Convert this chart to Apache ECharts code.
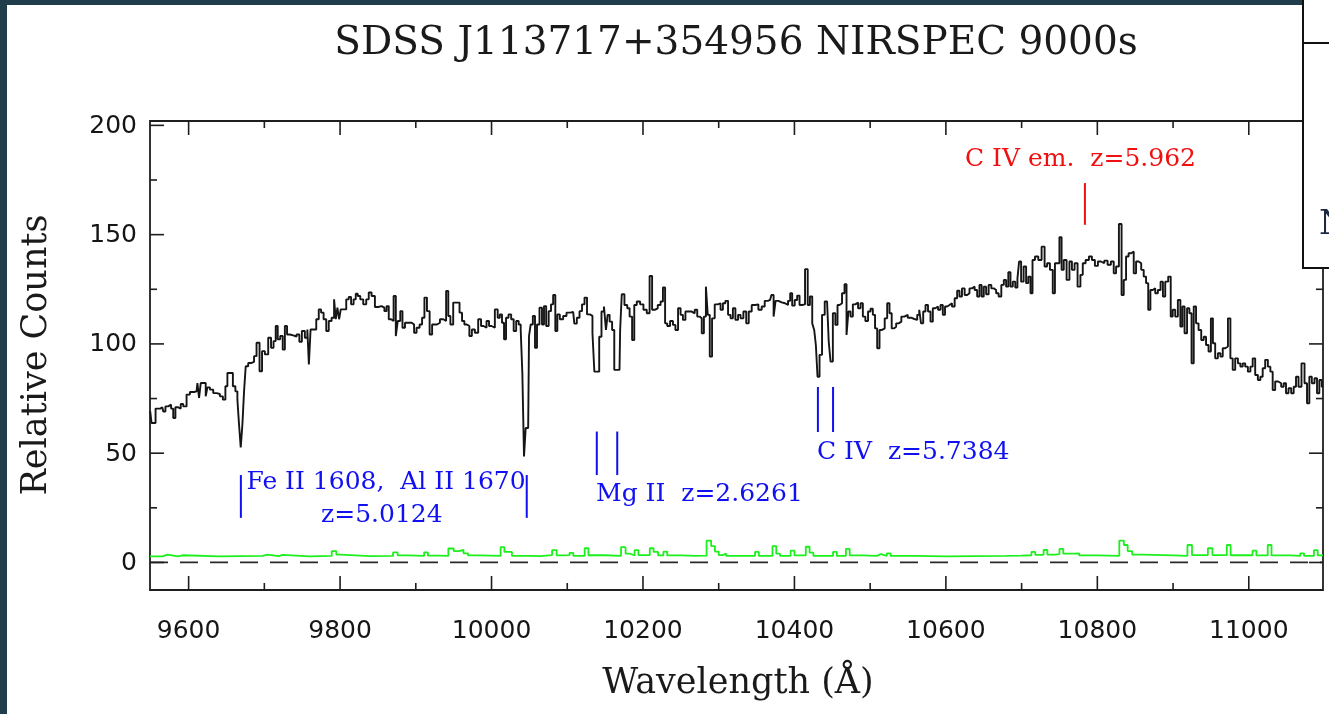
<!DOCTYPE html>
<html><head><meta charset="utf-8">
<script src="https://cdn.jsdelivr.net/npm/echarts@6/dist/echarts.min.js"></script>
<style>html,body{margin:0;padding:0;background:#fff}#c{width:1329px;height:714px}</style>
</head><body><div id="c"></div>
<script>
// ---- spectrum (wavelength in Angstrom, relative counts) ----
const specWave = [
9549.3,9552.8,9559.9,9565.2,9567.8,9570.9,9575.3,9578.4,9581.0,9584.1,9588.5,9590.7,9595.1,9599.5,9603.9,9610.5,9612.7,9614.9,9617.1,9621.5,
9623.7,9625.9,9630.3,9634.7,9639.1,9643.5,9647.0,9650.1,9652.3,9656.7,9660.2,9663.3,9665.5,9667.7,9669.9,9672.1,9674.3,9676.5,9680.9,9685.3,
9687.5,9691.9,9695.4,9698.5,9702.9,9707.3,9710.4,9713.9,9716.1,9719.2,9722.7,9725.8,9728.4,9731.5,9735.9,9740.3,9744.7,9747.8,9751.3,9755.7,
9757.9,9759.7,9762.4,9766.8,9770.3,9773.4,9776.5,9780.0,9783.5,9786.6,9791.0,9793.2,9795.4,9797.6,9799.8,9802.0,9806.4,9809.9,9813.0,9816.1,
9819.6,9821.8,9824.9,9828.4,9832.8,9836.3,9839.4,9843.8,9848.2,9852.6,9857.0,9860.1,9862.8,9865.8,9868.9,9872.5,9874.7,9877.7,9881.3,9883.5,
9887.9,9892.3,9896.7,9898.8,9903.2,9906.8,9909.8,9913.0,9916.5,9920.0,9923.1,9926.2,9929.7,9934.1,9938.5,9941.6,9944.2,9947.2,9951.6,9956.0,
9959.5,9962.6,9965.7,9969.2,9972.3,9975.8,9980.2,9984.6,9987.7,9991.2,9995.6,9997.8,10002.2,10006.6,10009.7,10012.3,10015.4,10017.6,10020.7,10024.2,
10027.7,10030.8,10034.3,10037.4,10039.6,10041.8,10044.0,10046.2,10048.4,10050.6,10052.8,10056.3,10058.5,10061.6,10065.1,10068.2,10070.4,10073.9,10077.0,10080.1,
10082.7,10085.8,10088.0,10092.4,10096.8,10101.2,10107.8,10110.9,10114.4,10118.0,10121.0,10124.6,10127.6,10132.0,
10134.6,10137.0,10141.0,10143.4,10147.0,10150.0,10152.2,10154.4,10157.5,10161.0,10163.2,10169.0,10170.7,10173.3,10177.7,10180.8,10183.9,10187.4,10189.6,10194.0,
10198.4,10202.8,10207.2,10210.3,10213.8,10217.3,10221.7,10224.8,10227.9,10230.5,10233.6,10238.0,10241.1,10244.6,10248.1,10251.2,10254.3,10257.8,10262.2,10266.6,
10270.1,10273.2,10276.3,10278.9,10282.0,10284.2,10286.9,10289.5,10293.0,10296.5,10300.9,10304.0,10307.1,10310.6,10314.1,10317.2,10320.3,10323.8,10327.3,10330.4,
10334.8,10337.9,10341.4,10345.8,10350.2,10354.6,10359.0,10362.5,10367.8,10371.4,10373.6,10376.6,10381.0,10385.4,10389.8,10393.3,10395.5,10398.6,10402.1,10405.2,
10408.3,10411.8,10416.2,10418.9,10422.0,10425.0,10427.2,10429.4,10431.6,10434.7,10438.2,10441.8,10444.4,10446.2,10449.2,10452.3,10455.8,10458.0,10461.1,10464.6,
10467.7,10469.9,10472.6,10475.6,10478.7,10482.2,10485.8,10488.8,10491.9,10495.4,10499.0,10502.0,10505.1,10507.8,10510.8,10513.9,10517.4,10521.0,10524.0,10527.1,
10529.8,10532.8,10535.9,10539.4,10543.0,10547.4,10551.8,10556.2,10560.6,10563.7,10565.9,10568.5,10571.6,10574.6,10578.2,10581.2,10584.3,10587.8,10591.4,10594.4,
10597.5,10600.2,10603.2,10606.3,10609.8,10613.4,10616.4,10619.5,10623.0,10626.6,10629.6,10632.7,10636.2,10639.8,10642.8,10645.9,10648.5,10651.6,10654.7,10658.2,
10661.8,10664.8,10667.9,10671.4,10675.0,10678.0,10681.1,10683.8,10686.8,10689.9,10693.4,10695.6,10697.8,10700.9,10704.4,10707.5,10710.2,10713.3,10715.5,
10719.8,10724.2,10728.6,10732.1,10735.2,10739.6,10742.7,10745.3,10748.4,10751.5,10754.1,10757.2,10761.6,10764.7,10768.2,10771.7,10776.1,10779.2,10782.3,10786.7,
10791.1,10794.6,10799.0,10802.5,10807.0,10811.3,10815.7,10820.1,10823.2,10826.3,10830.7,10833.3,10836.4,10839.5,10843.0,10846.5,10849.6,10852.7,10856.2,10859.7,
10862.8,10865.9,10868.5,10871.6,10874.7,10878.2,10881.7,10885.3,10887.9,10891.4,10895.8,10898.0,10901.1,10904.6,10908.1,10911.2,10913.4,10917.0,10920.0,10923.1,
10925.8,10928.8,10931.9,10935.4,10939.0,10942.0,10945.1,10948.6,10951.3,10953.9,10957.4,10961.0,10964.1,10967.1,10970.7,10974.2,10977.2,10980.3,10983.8,10987.4,
10990.4,10993.5,10997.0,11000.6,11003.6,11006.7,11010.2,11013.8,11016.8,11019.9,11023.4,11027.0,11030.0,11033.1,11036.6,11041.0,11044.6,11047.6,11050.7,11054.2,
11057.8,11060.8,11063.9,11067.4,11071.8,11075.4,11078.4,11081.5,11085.0,11088.6,11091.6,11094.7,11098.0
];
const specCounts = [
69.1,63.8,70.4,71.0,69.1,71.4,72.2,70.4,66.1,71.0,70.4,72.5,71.4,76.8,78.0,78.3,82.1,75.3,82.1,82.1,
76.0,80.1,79.1,77.5,77.1,76.0,74.5,80.6,86.7,86.7,80.6,78.3,74.5,63.0,52.6,63.0,78.3,89.8,91.3,91.8,
94.4,100.5,87.5,96.7,95.2,102.8,98.2,101.3,108.2,102.1,103.6,97.4,108.2,104.3,103.9,103.3,104.3,101.0,105.9,102.8,
106.6,90.6,106.6,106.6,111.3,115.8,114.3,111.3,105.9,110.5,112.0,120.4,111.3,116.6,111.3,115.8,115.8,120.4,121.5,118.1,
120.4,123.0,121.9,120.4,118.1,120.4,123.5,121.9,116.9,117.3,116.6,115.0,117.3,111.3,110.5,121.9,103.6,110.5,115.0,107.4,
109.7,109.7,108.9,105.1,107.4,108.9,112.0,121.2,115.0,104.3,108.9,108.9,109.7,111.3,110.5,124.2,112.8,108.9,118.9,118.9,
114.3,110.5,108.9,108.2,103.6,106.6,105.1,111.3,108.2,107.4,110.5,108.2,107.4,115.8,112.0,113.5,109.7,102.1,112.0,113.5,
111.3,105.9,110.5,108.9,106.6,86.7,48.5,61.5,61.5,103.6,108.9,112.8,98.2,108.9,116.6,108.9,117.3,108.2,115.0,118.1,
122.4,105.9,113.5,111.3,112.8,114.3,114.7,109.3,112.0,115.0,118.1,121.2,113.5,112.8,
104.9,87.3,87.3,103.3,114.8,117.1,106.4,113.3,110.2,106.4,88.1,88.1,106.4,122.7,117.8,116.3,112.5,101.8,117.8,119.4,
118.1,115.6,114.0,131.1,115.6,116.3,117.8,119.4,125.8,109.4,108.2,110.5,108.7,106.4,116.3,113.3,111.0,114.8,114.8,114.0,
115.6,112.5,111.7,104.9,112.5,126.2,113.3,94.2,111.7,118.1,118.6,115.6,118.6,119.7,113.3,111.7,116.3,111.0,113.3,111.7,
114.8,109.4,114.8,117.8,118.1,115.6,117.1,119.7,120.1,122.4,112.5,119.7,119.0,118.6,117.8,119.7,123.2,117.5,120.1,122.1,
117.8,118.1,134.2,117.8,121.7,109.4,106.4,99.5,85.0,95.0,113.3,119.4,118.6,101.0,91.9,114.0,108.7,117.8,118.6,123.2,
127.3,104.1,114.8,112.5,118.1,119.0,116.3,118.6,112.5,110.5,114.8,116.1,113.3,107.1,98.0,106.4,107.1,111.7,118.6,114.0,
107.1,107.9,109.4,110.2,112.5,113.3,112.0,111.4,111.0,113.3,115.6,109.4,114.8,117.8,114.8,110.2,116.3,117.1,115.6,117.8,
113.3,117.1,117.8,118.6,117.1,120.9,124.3,121.7,125.4,122.4,123.2,125.4,126.2,124.7,121.7,127.0,121.7,126.2,122.7,127.0,
125.4,124.7,123.2,121.7,127.0,129.3,126.2,132.8,126.2,128.5,125.8,130.0,137.7,128.5,135.4,127.8,130.8,123.2,138.4,
140.0,138.4,144.5,135.4,136.9,133.9,123.2,136.9,136.9,148.8,133.9,138.4,129.3,137.7,133.9,136.9,126.2,131.6,136.9,138.4,
140.0,138.4,135.7,137.7,136.9,138.1,136.2,137.7,132.3,135.4,154.9,122.4,129.3,140.0,141.5,142.3,132.3,137.7,136.9,133.9,
130.8,127.8,115.6,124.7,125.5,123.2,124.7,128.5,121.7,128.5,130.8,112.5,115.6,112.5,120.1,107.9,117.1,104.9,116.3,114.0,
91.1,117.1,109.4,106.4,101.8,103.3,99.5,96.5,111.7,100.3,93.4,95.7,94.2,98.0,98.8,111.7,93.4,88.1,93.4,91.1,
89.6,91.1,89.6,87.3,89.6,93.4,85.8,83.5,85.0,88.9,92.7,89.6,87.3,78.9,82.8,82.0,80.4,82.0,77.4,79.7,
77.4,80.4,85.0,80.4,91.1,82.0,72.8,85.0,82.0,84.3,77.4,83.5,80.4
];
// ---- error spectrum (green) ----
const errWave = [
9549,9566,9572,9586,9592,9640,9698,9704,9719,9724,9760,9789,9795,9800,9840,9870,9876,9890,9911,9916,
9930,9943,9950,9957,9963,9969,9985,10012,10017,10023,10027,10050,10065,10080,10086,10095,10103,10108,10123,10128,
10150,10171,10177,10183,10189,10194,10209,10214,10220,10227,10232,10250,10270,10284,10290,10295,10300,10305,10310,10330,
10348,10353,10371,10376,10381,10395,10400,10415,10420,10425,10440,10451,10456,10468,10473,10490,10509,10514,10522,10527,
10560,10600,10640,10680,10700,10713,10718,10729,10734,10744,10750,10755,10771,10776,10800,10829,10835,10840,10846,10860,
10900,10919,10925,10946,10952,10971,10976,11005,11010,11025,11030,11055,11068,11073,11086,11091,11098
];
const errCounts = [
2.8,3.6,2.8,3.3,2.8,3.0,3.6,2.9,3.5,2.8,3.0,5.2,3.6,2.9,3.0,4.6,3.2,3.0,4.6,3.1,
3.0,6.4,5.2,5.8,4.2,3.2,3.0,7.0,4.8,4.8,3.0,2.9,3.4,5.6,3.2,3.4,4.4,3.0,6.5,3.3,
3.0,7.0,4.0,3.2,5.6,3.4,6.5,4.8,3.2,5.0,3.2,3.0,3.1,10.0,7.5,5.0,3.4,4.0,3.0,3.0,
4.8,3.0,7.5,4.0,3.0,5.4,3.2,7.2,4.5,3.0,3.0,4.8,3.0,6.2,3.2,3.0,3.8,3.0,4.2,3.0,
2.8,2.9,3.0,3.1,3.3,4.8,3.5,5.7,3.6,3.8,6.2,4.0,4.2,3.2,3.0,10.0,8.0,5.2,3.6,3.2,
3.0,8.0,3.4,6.5,3.4,8.0,3.3,5.4,3.2,8.0,3.2,3.0,4.2,3.0,5.6,3.2,3.2
];
// ---- ticks ----
const xMajorTicks = [9600, 9800, 10000, 10200, 10400, 10600, 10800, 11000];
const xMinorTicks = [9700, 9900, 10100, 10300, 10500, 10700, 10900];
const yMajorTicks = [0, 50, 100, 150, 200];
const yMinorTicks = [25, 75, 125, 175];
// ---- line identifications ----
const blueMarkWave = [9669, 10046.5, 10139, 10166, 10431, 10451];
const blueMarkLow  = [20.4, 20.4, 40.0, 40.0, 59.7, 59.7];
const blueMarkHigh = [40.0, 40.0, 59.9, 59.9, 80.3, 80.3];
const redMarkWave = [10783.6];
const redMarkLow  = [154.5];
const redMarkHigh = [173.6];
const blueLabelText  = ['Fe II 1608,  Al II 1670', 'z=5.0124', 'Mg II  z=2.6261', 'C IV  z=5.7384'];
const blueLabelWave  = [9676.3, 9774.9, 10138.0, 10429.8];
const blueLabelLevel = [36.8, 21.7, 30.9, 50.1];
const redLabelText  = ['C IV em.  z=5.962'];
const redLabelWave  = [10625.2];
const redLabelLevel = [184.2];

const X_MIN = 9549, X_MAX = 11098, Y_MIN = -12.6, Y_MAX = 202;
const FRAME = '#1e1e1e';
const TICKFONT = '25px "DejaVu Sans"';
const ANNFONT = '25px "DejaVu Serif"';

function xTicks(len, label) {
  return function (params, api) {
    const v = api.value(0);
    const b = api.coord([v, Y_MIN]), t = api.coord([v, Y_MAX]);
    const ch = [
      {type: 'line', shape: {x1: b[0], y1: b[1], x2: b[0], y2: b[1] - len}, style: {stroke: FRAME, lineWidth: 1.6}},
      {type: 'line', shape: {x1: t[0], y1: t[1], x2: t[0], y2: t[1] + len}, style: {stroke: FRAME, lineWidth: 1.6}}
    ];
    if (label) ch.push({type: 'text', x: b[0], y: b[1] + 41,
      style: {text: String(v), align: 'center', verticalAlign: 'middle', font: TICKFONT, fill: '#151515'}});
    return {type: 'group', children: ch};
  };
}
function yTicks(len, label) {
  return function (params, api) {
    const v = api.value(1);
    const l = api.coord([X_MIN, v]), r = api.coord([X_MAX, v]);
    const ch = [
      {type: 'line', shape: {x1: l[0], y1: l[1], x2: l[0] + len, y2: l[1]}, style: {stroke: FRAME, lineWidth: 1.6}},
      {type: 'line', shape: {x1: r[0], y1: r[1], x2: r[0] - len, y2: r[1]}, style: {stroke: FRAME, lineWidth: 1.6}}
    ];
    if (label) ch.push({type: 'text', x: l[0] - 13, y: l[1] + 1,
      style: {text: String(v), align: 'right', verticalAlign: 'middle', font: TICKFONT, fill: '#151515'}});
    return {type: 'group', children: ch};
  };
}
function markers(color) {
  return function (params, api) {
    const a = api.coord([api.value(0), api.value(1)]);
    const b = api.coord([api.value(0), api.value(2)]);
    return {type: 'line', shape: {x1: a[0], y1: a[1], x2: b[0], y2: b[1]}, style: {stroke: color, lineWidth: 2}};
  };
}
function labels(texts, color) {
  return function (params, api) {
    const p = api.coord([api.value(0), api.value(1)]);
    return {type: 'text', x: p[0], y: p[1],
      style: {text: texts[params.dataIndex], align: 'left', verticalAlign: 'middle', font: ANNFONT, fill: color}};
  };
}

const BLUE = '#1010f0', RED = '#f01010';
const chart = echarts.init(document.getElementById('c'), null, {renderer: 'canvas'});
chart.setOption({
  animation: false,
  backgroundColor: '#ffffff',
  grid: {left: 150, top: 121, right: 6, bottom: 124, show: true, borderColor: FRAME, borderWidth: 1.8, backgroundColor: 'transparent'},
  xAxis: {type: 'value', min: X_MIN, max: X_MAX, axisLine: {show: false}, axisTick: {show: false}, axisLabel: {show: false}, splitLine: {show: false}},
  yAxis: {type: 'value', min: Y_MIN, max: Y_MAX, axisLine: {show: false}, axisTick: {show: false}, axisLabel: {show: false}, splitLine: {show: false}},
  graphic: [
    {type: 'rect', shape: {x: 0, y: 0, width: 7, height: 714}, style: {fill: '#1f3d4b'}, z: 100},
    {type: 'rect', shape: {x: 0, y: 0, width: 1303, height: 5}, style: {fill: '#1f3d4b'}, z: 100},
    {type: 'rect', shape: {x: 1303, y: -4, width: 40, height: 272}, style: {fill: '#ffffff', stroke: '#111', lineWidth: 2}, z: 100},
    {type: 'line', shape: {x1: 1303, y1: 43, x2: 1329, y2: 43}, style: {stroke: '#111', lineWidth: 2}, z: 101},
    {type: 'text', x: 1319, y: 225, style: {text: 'N', font: '34px "DejaVu Serif"', fill: '#1c2740', align: 'left', verticalAlign: 'middle'}, z: 101},
    {type: 'text', x: 736, y: 44, style: {text: 'SDSS J113717+354956 NIRSPEC 9000s', font: '39px "DejaVu Serif"', fill: '#1a1a1a', align: 'center', verticalAlign: 'middle'}, z: 100},
    {type: 'text', x: 37, y: 355, rotation: Math.PI / 2, style: {text: 'Relative Counts', font: '35px "DejaVu Serif"', fill: '#1a1a1a', align: 'center', verticalAlign: 'middle'}, z: 100},
    {type: 'text', x: 738, y: 684, style: {text: 'Wavelength (Å)', font: '35px "DejaVu Serif"', fill: '#1a1a1a', align: 'center', verticalAlign: 'middle'}, z: 100}
  ],
  series: [
    {type: 'line', data: [[X_MIN, 0], [X_MAX, 0]], showSymbol: false, symbol: 'none', z: 1,
     lineStyle: {color: '#2a2a2a', width: 1.8, type: [18, 12]}},
    {type: 'line', step: 'end', data: errWave.map((w, i) => [w, errCounts[i]]), showSymbol: false, symbol: 'none', z: 2,
     lineStyle: {color: '#1cf01c', width: 1.8}},
    {type: 'line', step: 'middle', data: specWave.map((w, i) => [w, specCounts[i]]), showSymbol: false, symbol: 'none', z: 3,
     lineStyle: {color: '#151515', width: 1.9}},
    {type: 'custom', renderItem: xTicks(14, true), data: xMajorTicks.map(v => [v, 0]), z: 5},
    {type: 'custom', renderItem: xTicks(7, false), data: xMinorTicks.map(v => [v, 0]), z: 5},
    {type: 'custom', renderItem: yTicks(14, true), data: yMajorTicks.map(v => [X_MIN, v]), z: 5},
    {type: 'custom', renderItem: yTicks(7, false), data: yMinorTicks.map(v => [X_MIN, v]), z: 5},
    {type: 'custom', renderItem: markers(BLUE), data: blueMarkWave.map((w, i) => [w, blueMarkLow[i], blueMarkHigh[i]]), z: 6},
    {type: 'custom', renderItem: markers(RED), data: redMarkWave.map((w, i) => [w, redMarkLow[i], redMarkHigh[i]]), z: 6},
    {type: 'custom', renderItem: labels(blueLabelText, BLUE), data: blueLabelWave.map((w, i) => [w, blueLabelLevel[i]]), z: 6},
    {type: 'custom', renderItem: labels(redLabelText, RED), data: redLabelWave.map((w, i) => [w, redLabelLevel[i]]), z: 6}
  ]
});
</script></body></html>
